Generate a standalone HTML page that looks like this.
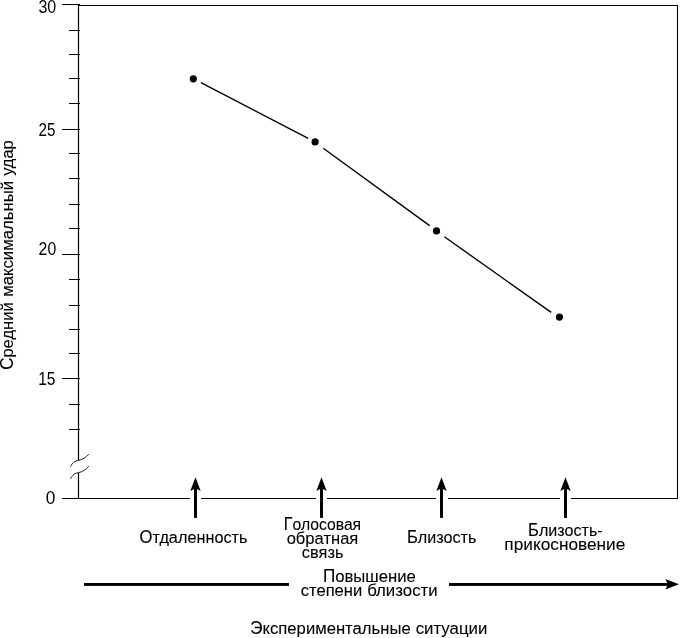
<!DOCTYPE html>
<html lang="ru"><head><meta charset="utf-8"><title>Средний максимальный удар</title>
<style>html,body{margin:0;padding:0;background:#fff;}body{width:680px;height:638px;overflow:hidden;}svg{display:block;}text{font-family:"Liberation Sans", "DejaVu Sans", sans-serif;font-size:17.6px;fill:#000;}.b text{font-size:17.2px;stroke:#000;stroke-width:0.1px;}.b .c{font-size:17.6px;}</style></head><body>
<svg width="680" height="638" viewBox="0 0 680 638">
<rect width="680" height="638" fill="#fff"/>
<g stroke="#000" stroke-width="1.1" fill="none" stroke-linecap="butt">
<path d="M78.5 5 V460.6 M78.5 472.8 V499.1" stroke-width="1.2"/>
<path d="M78 5.5 H678 M677.5 5 V499 M62 498.5 H190 M201 498.5 H316 M327 498.5 H436 M448 498.5 H560 M571 498.5 H678"/>
<path d="M62 4.5 H80 M62 129.5 H80 M62 254.5 H80 M62 378.5 H80 M69 30.5 H80 M69 54.5 H80 M69 78.5 H80 M69 103.5 H80 M69 153.5 H80 M69 178.5 H80 M69 204.5 H80 M69 228.5 H80 M69 279.5 H80 M69 305.5 H80 M69 329.5 H80 M69 353.5 H80 M69 404.5 H80 M69 429.5 H80"/>
</g>
<g stroke="#222" stroke-width="1" fill="none">
<path d="M70.5 466.7 C72.2 462.6 75 461 78.5 460.4 C82.5 459.7 86 457.6 88.8 454"/>
<path d="M70.5 478.9 C72.2 474.8 75 473.2 78.5 472.6 C82.5 471.9 86 469.8 88.8 466.2"/>
</g>
<g stroke="#000" stroke-width="1.4" fill="none">
<path d="M200.9 82.6 L308.2 138.3 M323.3 148.2 L429.6 225.6 M444.4 236.8 L551.2 312.4"/>
</g>
<g fill="#000">
<circle cx="193.3" cy="78.8" r="3.6"/>
<circle cx="315.1" cy="141.9" r="3.6"/>
<circle cx="436.5" cy="230.9" r="3.6"/>
<circle cx="559.45" cy="317.05" r="3.6"/>
</g>
<g fill="#000" stroke="none">
<path d="M194.00 517.9 V488 H197.00 V517.9 Z"/>
<path d="M195.5 477.3 L200.70 490.9 L195.5 488.2 L190.30 490.9 Z"/>
<path d="M320.00 517.9 V488 H323.00 V517.9 Z"/>
<path d="M321.5 477.3 L326.70 490.9 L321.5 488.2 L316.30 490.9 Z"/>
<path d="M440.00 517.9 V488 H443.00 V517.9 Z"/>
<path d="M441.5 477.3 L446.70 490.9 L441.5 488.2 L436.30 490.9 Z"/>
<path d="M564.00 517.9 V488 H567.00 V517.9 Z"/>
<path d="M565.5 477.3 L570.70 490.9 L565.5 488.2 L560.30 490.9 Z"/>
</g>
<g fill="#000" stroke="none">
<rect x="84" y="583" width="205" height="2.9"/>
<rect x="449" y="583" width="220" height="2.9"/>
<path d="M679 584.3 L665.3 579.1 L668.1 584.4 L665.3 589.6 Z"/>
</g>
<g>
<text x="38.44" y="12.85" textLength="17.85" lengthAdjust="spacingAndGlyphs">30</text>
<text x="38.59" y="135.75" textLength="16.88" lengthAdjust="spacingAndGlyphs">25</text>
<text x="38.61" y="254.90" textLength="17.55" lengthAdjust="spacingAndGlyphs">20</text>
<text x="38.23" y="384.90" textLength="17.27" lengthAdjust="spacingAndGlyphs">15</text>
<text x="45.63" y="503.90" textLength="9.58" lengthAdjust="spacingAndGlyphs">0</text>
</g>
<g class="b">
<text transform="translate(13.2 368.95) rotate(-90)" y="0"><tspan x="-0.90" textLength="67.55" lengthAdjust="spacingAndGlyphs"><tspan class="c">С</tspan>редний</tspan> <tspan x="72.18" textLength="115.80" lengthAdjust="spacingAndGlyphs">максимальный</tspan> <tspan x="193.15" textLength="35.51" lengthAdjust="spacingAndGlyphs">удар</tspan></text>
<text x="139.55" y="542.80" textLength="107.94" lengthAdjust="spacingAndGlyphs"><tspan class="c">О</tspan>тдаленность</text>
<text x="283.80" y="529.60" textLength="77.34" lengthAdjust="spacingAndGlyphs"><tspan class="c">Г</tspan>олосовая</text>
<text x="286.65" y="543.90" textLength="71.67" lengthAdjust="spacingAndGlyphs">обратная</text>
<text x="301.85" y="557.80" textLength="41.60" lengthAdjust="spacingAndGlyphs">связь</text>
<text x="406.94" y="542.60" textLength="69.48" lengthAdjust="spacingAndGlyphs"><tspan class="c">Б</tspan>лизость</text>
<text x="528.11" y="535.90" textLength="74.54" lengthAdjust="spacingAndGlyphs"><tspan class="c">Б</tspan>лизость-</text>
<text x="504.38" y="549.70" textLength="120.93" lengthAdjust="spacingAndGlyphs">прикосновение</text>
<text x="322.89" y="581.50" textLength="92.97" lengthAdjust="spacingAndGlyphs"><tspan class="c">П</tspan>овышение</text>
<text y="596.00"><tspan x="300.71" textLength="61.58" lengthAdjust="spacingAndGlyphs">степени</tspan> <tspan x="367.20" textLength="70.45" lengthAdjust="spacingAndGlyphs">близости</tspan></text>
<text y="633.60"><tspan x="250.27" textLength="160.39" lengthAdjust="spacingAndGlyphs"><tspan class="c">Э</tspan>кспериментальные</tspan> <tspan x="415.63" textLength="71.69" lengthAdjust="spacingAndGlyphs">ситуации</tspan></text>
</g>
</svg>
</body></html>
